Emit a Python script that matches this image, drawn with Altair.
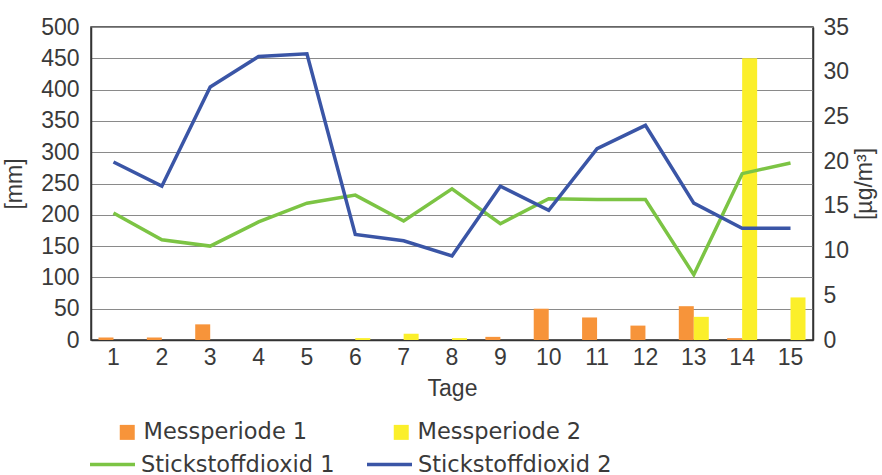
import altair as alt
import pandas as pd

days = list(range(1, 16))
mess1 = [4, 4, 25, 0, 0, 0, 0, 0, 5, 50, 36, 23, 54, 3, 0]
mess2 = [0, 0, 0, 0, 0, 3, 10, 3, 0, 0, 0, 0, 37, 450, 68]
no2_1 = [14.2, 11.2, 10.5, 13.2, 15.3, 16.2, 13.3, 16.9, 13.0, 15.8, 15.7, 15.7, 7.3, 18.6, 19.8]
no2_2 = [19.9, 17.2, 28.3, 31.7, 32.0, 11.8, 11.1, 9.4, 17.2, 14.5, 21.4, 24.0, 15.3, 12.5, 12.5]

bar_names = ["Messperiode 1", "Messperiode 2"]
line_names = ["Stickstoffdioxid 1", "Stickstoffdioxid 2"]
bar_colors = ["#F7943A", "#FBEF2A"]
line_colors = ["#7CC444", "#3A55A6"]

FONT = "Liberation Sans"
LFONT = "DejaVu Sans"
TXT = "#3a3a3a"
FS = 23

bars = pd.DataFrame(
    [{"Tag": d, "Serie": bar_names[0], "Wert": v} for d, v in zip(days, mess1)]
    + [{"Tag": d, "Serie": bar_names[1], "Wert": v} for d, v in zip(days, mess2)]
)
lines = pd.DataFrame(
    [{"Tag": d, "Serie": line_names[0], "Wert": v} for d, v in zip(days, no2_1)]
    + [{"Tag": d, "Serie": line_names[1], "Wert": v} for d, v in zip(days, no2_2)]
)

xscale = alt.Scale(paddingInner=0.38, paddingOuter=0.155)
xaxis = alt.Axis(title="Tage", labelAngle=0, ticks=False, domain=True, domainColor="#333",
                 domainWidth=1.5, labelFontSize=FS, labelColor=TXT, labelFont=FONT,
                 titleFontSize=FS, titleColor=TXT, titleFont=FONT, titleFontWeight="normal",
                 labelPadding=6, titlePadding=8, grid=False)

bar_layer = alt.Chart(bars).mark_bar().encode(
    x=alt.X("Tag:O", scale=xscale, axis=xaxis),
    xOffset=alt.XOffset("Serie:N", scale=alt.Scale(domain=bar_names)),
    y=alt.Y("Wert:Q", scale=alt.Scale(domain=[0, 500]),
            axis=alt.Axis(title="[mm]", values=list(range(0, 501, 50)), ticks=False,
                          grid=True, gridColor="#8a8a8a", gridWidth=1, domainColor="#333",
                          domainWidth=1.5, labelFontSize=FS, labelColor=TXT, labelFont=FONT,
                          titleFontSize=FS, titleColor=TXT, titleFont=FONT,
                          titleFontWeight="normal", labelPadding=12, titlePadding=14)),
    fill=alt.Fill("Serie:N", scale=alt.Scale(domain=bar_names, range=bar_colors),
                  legend=alt.Legend(title=None, orient="none", legendX=25, legendY=394,
                                    direction="horizontal", columns=2, symbolType="square",
                                    symbolSize=225, symbolStrokeWidth=0, labelFontSize=22.5,
                                    labelColor=TXT, labelFont=LFONT, labelOffset=5,
                                    columnPadding=82, labelLimit=400)),
)

line_layer = alt.Chart(lines).mark_line(strokeWidth=3.5).encode(
    x=alt.X("Tag:O", scale=xscale, axis=xaxis),
    y=alt.Y("Wert:Q", scale=alt.Scale(domain=[0, 35]),
            axis=alt.Axis(title="[µg/m³]", orient="right", values=list(range(0, 36, 5)),
                          ticks=False, grid=False, domainColor="#333", domainWidth=1.5,
                          labelFontSize=FS, labelColor=TXT, labelFont=FONT,
                          titleFontSize=FS, titleColor=TXT, titleFont=FONT,
                          titleFontWeight="normal", labelPadding=10, titlePadding=28,
                          titleAngle=-90)),
    stroke=alt.Stroke("Serie:N", scale=alt.Scale(domain=line_names, range=line_colors),
                      legend=alt.Legend(title=None, orient="none", legendX=-3, legendY=413,
                                        direction="horizontal", columns=2, symbolType="stroke",
                                        symbolSize=2025, symbolStrokeWidth=3.5, labelFontSize=22.5,
                                        labelColor=TXT, labelFont=LFONT, labelOffset=4,
                                        columnPadding=25, labelLimit=400)),
)

chart = alt.layer(bar_layer, line_layer).resolve_scale(
    y="independent", fill="independent", stroke="independent"
).properties(
    width=722, height=313,
    autosize=alt.AutoSizeParams(type="none"),
    padding={"left": 91, "top": 27, "right": 69, "bottom": 135},
    background="white",
).configure_view(stroke="#333", strokeWidth=1.5)

chart.save("out.html", embed_options={"renderer": "svg", "actions": False})
